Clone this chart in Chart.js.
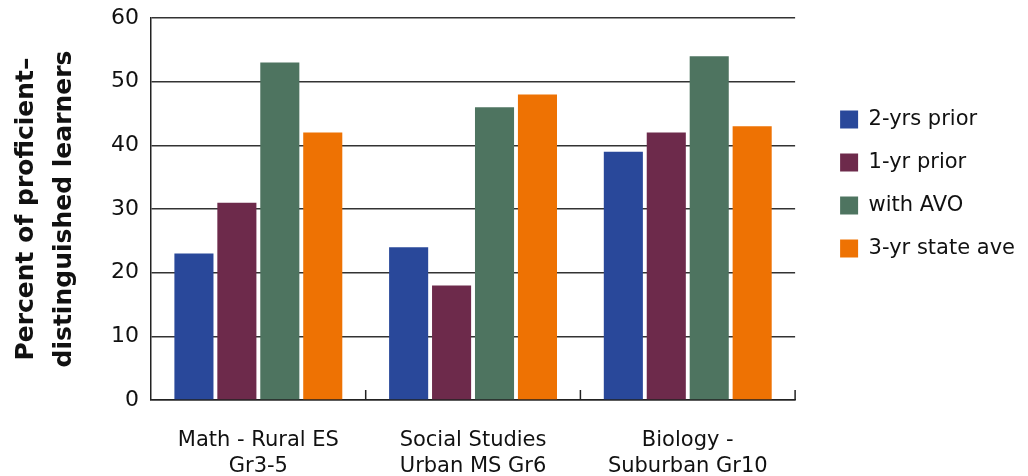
<!DOCTYPE html>
<html>
<head>
<meta charset="utf-8">
<script src="https://cdn.jsdelivr.net/npm/chart.js@4"></script>
<style>
  html, body { margin: 0; padding: 0; background: #fff; }
  #chart { display: block; }
</style>
</head>
<body>
<canvas id="chart" width="1028" height="476"></canvas>
<script>
// Data
const categories = [
    ['Math - Rural ES', 'Gr3-5'],
    ['Social Studies', 'Urban MS Gr6'],
    ['Biology -', 'Suburban Gr10']
];
const seriesNames = ['2-yrs prior', '1-yr prior', 'with AVO', '3-yr state ave'];
const twoYrsPrior = [23, 24, 39];
const oneYrPrior = [31, 18, 42];
const withAvo = [53, 46, 54];
const stateAve = [42, 48, 43];
const yTicks = [0, 10, 20, 30, 40, 50, 60];

const colors = ['#29489a', '#6d2a4b', '#4e7460', '#ee7203'];
const fontFamily = "'DejaVu Sans', sans-serif";

// inward tick marks between categories on the x axis
const innerTicks = {
    id: 'innerTicks',
    afterDraw(chart) {
        const x = chart.scales.x;
        const ctx = chart.ctx;
        const half = (x.getPixelForValue(1) - x.getPixelForValue(0)) / 2;
        ctx.save();
        ctx.strokeStyle = '#222';
        ctx.lineWidth = 1.5;
        for (let i = 0; i < categories.length; i++) {
            const px = x.getPixelForValue(i) + half;
            ctx.beginPath();
            ctx.moveTo(px, x.top);
            ctx.lineTo(px, x.top - 10);
            ctx.stroke();
        }
        ctx.restore();
    }
};

// push the legend a bit further away from the plot
const legendShift = {
    id: 'legendShift',
    afterLayout(chart) {
        chart.legend.left += 23;
        chart.legend.right += 23;
    }
};

const seriesData = [twoYrsPrior, oneYrPrior, withAvo, stateAve];

new Chart(document.getElementById('chart'), {
    type: 'bar',
    data: {
        labels: categories,
        datasets: seriesNames.map((name, i) => ({
            label: name,
            data: seriesData[i],
            backgroundColor: colors[i],
            categoryPercentage: 0.8,
            barPercentage: 0.91
        }))
    },
    options: {
        responsive: false,
        animation: false,
        layout: { padding: { top: 18, right: 26, left: 8, bottom: 0 } },
        plugins: {
            tooltip: { enabled: false },
            legend: {
                position: 'right',
                align: 'start',
                title: {
                    display: true,
                    text: ' ',
                    font: { size: 10 },
                    padding: { top: 57, bottom: 0 }
                },
                labels: {
                    boxWidth: 18,
                    boxHeight: 18,
                    padding: 22,
                    color: '#111',
                    font: { family: fontFamily, size: 21 }
                }
            }
        },
        scales: {
            x: {
                afterFit(scale) { scale.height = 76; },
                grid: { display: false, drawTicks: false },
                border: { color: '#222', width: 1.5 },
                ticks: {
                    color: '#111',
                    padding: 27,
                    maxRotation: 0,
                    font: { family: fontFamily, size: 21, lineHeight: 1.25 }
                }
            },
            y: {
                min: 0,
                max: 60,
                afterBuildTicks(scale) {
                    scale.ticks = yTicks.map(v => ({ value: v }));
                },
                afterFit(scale) {
                    scale.paddingTop = 0;
                    scale.paddingBottom = 0;
                },
                grid: { color: '#333', lineWidth: 1.5, drawTicks: false },
                border: { color: '#222', width: 1.5 },
                ticks: {
                    color: '#111',
                    padding: 12,
                    font: { family: fontFamily, size: 22 }
                },
                title: {
                    display: true,
                    text: ['Percent of proficient–', 'distinguished learners'],
                    color: '#111',
                    padding: { top: 0, bottom: 16 },
                    font: { family: fontFamily, size: 25, weight: 'bold', lineHeight: 1.5 }
                }
            }
        }
    },
    plugins: [innerTicks, legendShift]
});
</script>
</body>
</html>
